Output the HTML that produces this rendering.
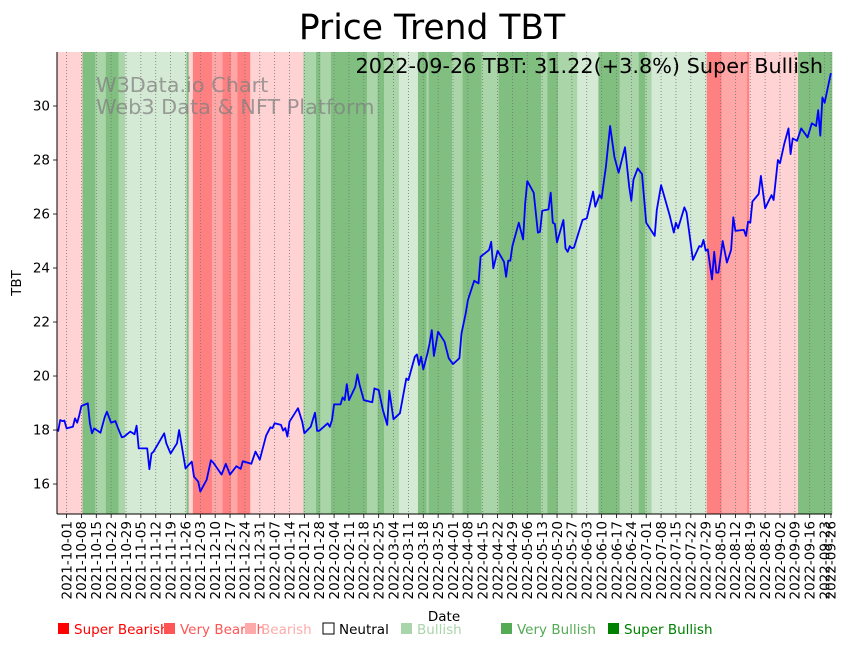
<!DOCTYPE html>
<html><head><meta charset="utf-8">
<style>
html,body{margin:0;padding:0;background:#fff;}
svg{display:block;font-family:"DejaVu Sans","Liberation Sans",sans-serif;}
</style></head>
<body>
<svg id="chart" width="851" height="646" viewBox="0 0 851 646">
<text x="432" y="39" font-size="34.5" text-anchor="middle" fill="#000">Price Trend TBT</text>
<g id="bands"></g>
<g id="grid"></g>
<text x="96" y="92" font-size="20.8" fill="#808080" fill-opacity="0.75">W3Data.io Chart</text>
<text x="96" y="114" font-size="20.8" fill="#808080" fill-opacity="0.75">Web3 Data &amp; NFT Platform</text>
<g id="series"></g>
<text x="823" y="73" font-size="20.8" text-anchor="end" fill="#000">2022-09-26 TBT: 31.22(+3.8%) Super Bullish</text>
<g id="axes"></g>
<text x="444" y="621" font-size="13.5" text-anchor="middle">Date</text>
<text transform="translate(21,283) rotate(-90)" font-size="13.5" text-anchor="middle">TBT</text>
<g id="legend"></g>
</svg>
<script>
// ---- data ----
const startDate = "2021-09-27";
const bandStarts = [0,12,18,23,29,32,61,62,64,73,78,82,85,91,116,122,124,129,146,151,154,161,170,174,175,186,191,200,208,228,231,236,245,255,265,274,277,280,306,313,325,326,349];
const bandCats = [2,6,5,6,5,4,6,2,0,1,0,1,0,2,5,6,5,6,5,6,5,4,6,5,6,5,6,5,6,5,6,5,4,6,5,6,5,4,0,1,0,2,6];
const priceDays = [0,1,2,3,4,6,7,8,9,10,11,14,15,16,17,20,22,23,25,27,28,30,31,34,36,37,38,42,43,44,45,50,51,53,56,57,60,63,64,66,67,70,72,73,77,79,81,84,86,87,91,93,95,98,100,101,102,105,106,107,108,109,113,115,116,119,121,122,123,127,128,129,130,133,134,135,136,137,140,141,142,144,148,149,151,153,155,156,158,161,164,165,168,169,170,171,172,174,175,176,177,179,182,184,186,189,190,192,193,196,198,199,203,204,205,207,210,211,212,213,214,217,219,220,221,224,226,227,228,231,232,233,234,235,238,239,240,241,242,243,247,249,252,253,255,256,258,260,262,264,267,269,270,271,273,275,276,277,281,282,284,288,290,291,292,295,296,299,302,303,304,305,306,308,309,310,311,313,315,317,318,319,323,324,325,326,327,330,331,333,336,337,339,340,342,344,345,346,348,350,353,355,357,358,359,360,361,364];
const priceValues = [17.94,18.37,18.33,18.35,18.06,18.10,18.12,18.43,18.27,18.55,18.89,18.99,18.25,17.88,18.06,17.90,18.49,18.68,18.27,18.33,18.12,17.73,17.75,17.94,17.84,18.16,17.32,17.32,16.55,17.13,17.20,17.88,17.51,17.13,17.51,18.00,16.58,16.83,16.27,16.09,15.72,16.16,16.88,16.80,16.35,16.75,16.35,16.66,16.56,16.84,16.75,17.20,16.90,17.79,18.10,18.07,18.25,18.19,17.98,18.07,17.76,18.31,18.81,18.31,17.88,18.12,18.64,17.97,17.97,18.25,18.12,18.37,18.95,18.95,19.21,19.11,19.70,19.11,19.60,20.06,19.67,19.11,19.03,19.54,19.48,18.74,18.19,19.46,18.40,18.62,19.91,19.85,20.71,20.80,20.41,20.71,20.25,20.84,21.21,21.70,20.74,21.64,21.27,20.66,20.44,20.66,21.58,22.32,22.81,23.53,23.43,24.42,24.67,24.97,23.99,24.64,24.23,23.68,24.27,24.27,24.81,25.68,25.06,26.40,27.22,26.79,25.31,25.34,26.12,26.17,26.79,25.68,25.63,24.95,25.78,24.73,24.60,24.81,24.73,24.76,25.78,25.84,26.83,26.27,26.70,26.58,27.75,29.26,28.12,27.53,28.47,27.01,26.49,27.28,27.69,27.48,26.58,25.68,25.19,26.15,27.07,25.96,25.31,25.68,25.47,26.25,26.05,24.30,24.81,24.79,25.04,24.64,24.69,23.58,24.60,23.83,23.83,25.00,24.20,24.67,25.88,25.38,25.41,25.19,25.72,25.68,26.46,26.74,27.41,26.21,26.70,26.52,28.00,27.88,28.59,29.17,28.22,28.80,28.71,29.17,28.84,29.36,29.26,29.85,28.90,30.32,30.12,31.22];
const yTicks = [16,18,20,22,24,26,28,30];
const catColors = ["#ff8080","#ffa6a6","#ffd3d3","#ffffff","#d5ead5","#a9d5a9","#80bf80"];
const legendNames = ["Super Bearish","Very Bearish","Bearish","Neutral","Bullish","Very Bullish","Super Bullish"];
const legendColors = ["#ff0000","#ff5555","#ffaaaa","#ffffff","#aad4aa","#55aa55","#008000"];
const legendText = ["#ff0000","#ff5555","#ffaaaa","#000000","#aad4aa","#55aa55","#008000"];
const legendX = [57,163,244,322,400,500,607];

// ---- scales ----
const L=57,R=832,T=52,B=514,nDays=365;
const xS = i => L + (i+0.5)*(R-L)/nDays;
const xEdge = b => L + b*(R-L)/nDays;
const yMin=14.89,yMax=32.0;
const yS = v => B - (v-yMin)/(yMax-yMin)*(B-T);
const NS="http://www.w3.org/2000/svg";
function mk(tag,attrs,parent){const e=document.createElementNS(NS,tag);for(const k in attrs)e.setAttribute(k,attrs[k]);parent.appendChild(e);return e;}
function dateStr(i){const d=new Date(startDate+"T00:00:00Z");d.setUTCDate(d.getUTCDate()+i);return d.toISOString().slice(0,10);}

// bands
const gB=document.getElementById('bands');
for(let k=0;k<bandStarts.length;k++){
  const s=bandStarts[k], e=(k+1<bandStarts.length)?bandStarts[k+1]:nDays;
  const r=mk('rect',{x:xEdge(s),y:T,width:xEdge(e)-xEdge(s)+0.3,height:B-T,fill:catColors[bandCats[k]]},gB);
  
  
}

// ticks & grid
const tickDays=[];for(let i=4;i<=361;i+=7)tickDays.push(i);tickDays.push(364);
const gG=document.getElementById('grid'), gA=document.getElementById('axes');
tickDays.forEach(i=>{
  const x=xS(i);
  const gl=mk('line',{x1:x,x2:x,y1:T,y2:B,stroke:'#777','stroke-width':0.8,'stroke-dasharray':'1,2'},gG);
  
  
  mk('line',{x1:x,x2:x,y1:B,y2:B+4,stroke:'#000','stroke-width':0.8},gA);
  const t=mk('text',{transform:`translate(${x+4.8},${B+7}) rotate(-90)`,'font-size':13.5,'text-anchor':'end'},gA);
  t.textContent=dateStr(i);
  
  
});
yTicks.forEach(v=>{
  const y=yS(v);
  mk('line',{x1:L-4,x2:L,y1:y,y2:y,stroke:'#000','stroke-width':0.8},gA);
  const t=mk('text',{x:L-7,y:y+4.7,'font-size':13.5,'text-anchor':'end'},gA);
  t.textContent=v;
  
  
});
mk('line',{x1:L,x2:L,y1:T,y2:B,stroke:'#000','stroke-width':1},gA);
mk('line',{x1:L,x2:R,y1:B,y2:B,stroke:'#000','stroke-width':1},gA);

// series
const gS=document.getElementById('series');
const pts=priceDays.map((d,k)=>xS(d).toFixed(1)+','+yS(priceValues[k]).toFixed(1)).join(' ');
const pl=mk('polyline',{points:pts,fill:'none',stroke:'#0000ff','stroke-width':1.8,'stroke-linejoin':'round'},gS);



// legend
const gL=document.getElementById('legend');
legendNames.forEach((n,k)=>{
  const x=legendX[k];
  const r=mk('rect',{x:x+1,y:623,width:11,height:11,fill:legendColors[k],stroke:k===3?'#000':'none','stroke-width':1},gL);
  
  
  const t=mk('text',{x:x+17,y:634,'font-size':13.5,fill:legendText[k]},gL);
  t.textContent=n;
  
  
});
</script>
</body></html>
